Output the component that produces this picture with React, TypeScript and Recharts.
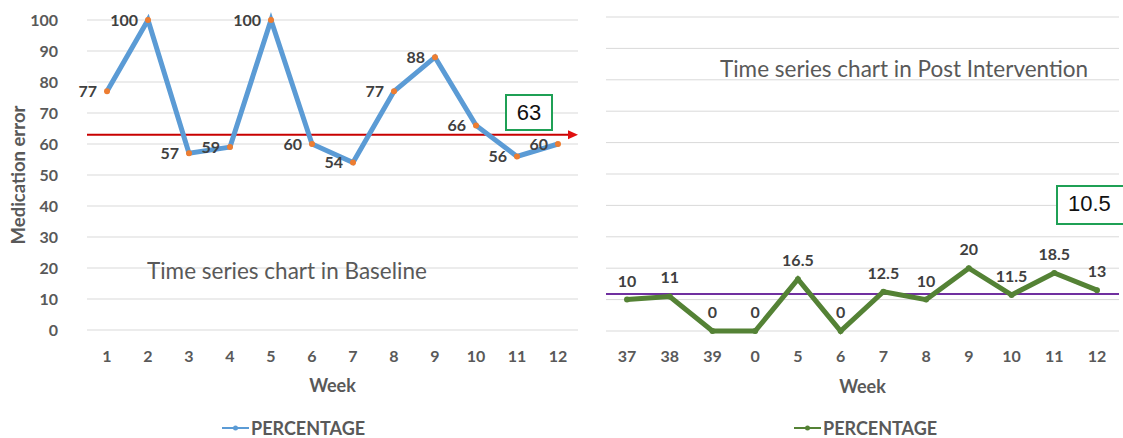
import React from 'react';
import {
  LineChart,
  Line,
  XAxis,
  YAxis,
  CartesianGrid,
  ReferenceLine,
  LabelList,
  Legend,
} from 'recharts';

// ---------- data ----------
const baselineWeeks = ['1', '2', '3', '4', '5', '6', '7', '8', '9', '10', '11', '12'];
const baselineValues = [77, 100, 57, 59, 100, 60, 54, 77, 88, 66, 56, 60];
const baselineMean = 63;

const postWeeks = ['37', '38', '39', '0', '5', '6', '7', '8', '9', '10', '11', '12'];
const postValues = [10, 11, 0, 0, 16.5, 0, 12.5, 10, 20, 11.5, 18.5, 13];
const postLevel = 11.8;

const yTicks = [0, 10, 20, 30, 40, 50, 60, 70, 80, 90, 100];

const baselineTitle = 'Time series chart in Baseline';
const postTitle = 'Time series chart in Post Intervention';
const baselineBoxText = '63';
const postBoxText = '10.5';
const seriesName = 'PERCENTAGE';

const baselineData = baselineWeeks.map((week, i) => ({ week, value: baselineValues[i] }));
const postData = postWeeks.map((week, i) => ({ week, value: postValues[i] }));

// ---------- styles ----------
const FONT = 'Lato, "Open Sans", "Liberation Sans", sans-serif';
const AXIS_GRAY = '#595959';
const LABEL_DARK = '#404040';
const GRID = '#D9D9D9';
const BLUE = '#5B9BD5';
const ORANGE = '#ED7D31';
const GREEN = '#548235';
const RED = '#C80000';
const PURPLE = '#7030A0';
const BOX_GREEN = '#1FA055';

const tickStyle = { fill: AXIS_GRAY, fontSize: 16, fontWeight: 700, fontFamily: FONT };
const dataLabelStyle = { fill: LABEL_DARK, fontSize: 16, fontWeight: 700, fontFamily: FONT };
const weekStyle = { fill: AXIS_GRAY, fontSize: 18, fontWeight: 700, fontFamily: FONT };

const LEGEND_H = 20;
const LEGEND_TOP = 418;

const ArrowLine = (props: any) => {
  const { x1, y1, x2 } = props;
  const y = y1;
  return (
    <g>
      <line x1={x1} y1={y} x2={x2 - 6} y2={y} stroke={RED} strokeWidth={2} />
      <polygon points={`${x2},${y} ${x2 - 10},${y - 4.5} ${x2 - 10},${y + 4.5}`} fill="#E01010" />
    </g>
  );
};

const makeLegend = (color: string) => () => (
  <div style={{ display: 'flex', alignItems: 'center', height: LEGEND_H }}>
    <svg width={27} height={10} style={{ marginRight: 2 }}>
      <line x1={0} y1={5} x2={27} y2={5} stroke={color} strokeWidth={2} />
      <circle cx={13.5} cy={5} r={2.5} fill={color} />
    </svg>
    <span style={{ fontFamily: FONT, fontWeight: 700, fontSize: 18, color: AXIS_GRAY, lineHeight: `${LEGEND_H}px` }}>
      {seriesName}
    </span>
  </div>
);

const titleStyle: React.CSSProperties = {
  position: 'absolute',
  fontFamily: FONT,
  fontSize: 22.5,
  color: AXIS_GRAY,
  whiteSpace: 'nowrap',
  lineHeight: '27px',
};

const boxStyle: React.CSSProperties = {
  position: 'absolute',
  boxSizing: 'border-box',
  border: `2px solid ${BOX_GREEN}`,
  background: '#fff',
  fontFamily: '"Liberation Sans", Lato, sans-serif',
  fontSize: 22,
  color: '#111',
  lineHeight: '34px',
};

export default function App() {
  return (
    <div
      style={{
        position: 'absolute',
        left: 0,
        top: 0,
        width: 1123,
        height: 438,
        overflow: 'hidden',
        background: '#fff',
      }}
    >
      {/* Baseline chart */}
      <div style={{ position: 'absolute', left: 0, top: 0 }}>
        <LineChart width={600} height={438} data={baselineData} margin={{ top: 20, right: 22, bottom: 0, left: 0 }}>
          <CartesianGrid horizontal vertical={false} stroke={GRID} strokeWidth={1} />
          <XAxis
            dataKey="week"
            padding={{ left: 20, right: 20 }}
            axisLine={false}
            tickLine={false}
            tickSize={0}
            tickMargin={21}
            height={108 - LEGEND_H}
            tick={tickStyle}
            label={{ value: 'Week', position: 'insideBottom', offset: 26, style: weekStyle }}
          />
          <YAxis
            domain={[0, 100]}
            ticks={yTicks}
            width={87}
            axisLine={false}
            tickLine={false}
            tickSize={0}
            tickMargin={29}
            tick={tickStyle}
            label={{
              value: 'Medication error',
              angle: -90,
              position: 'insideLeft',
              offset: 18,
              style: { textAnchor: 'middle', fill: AXIS_GRAY, fontSize: 18.5, fontWeight: 700, fontFamily: FONT },
            }}
          />
          <ReferenceLine y={baselineMean} shape={ArrowLine} ifOverflow="extendDomain" />
          <Line
            type="linear"
            dataKey="value"
            name={seriesName}
            stroke={BLUE}
            strokeWidth={5}
            dot={{ r: 3, fill: ORANGE, stroke: 'none' }}
            activeDot={false}
            isAnimationActive={false}
          >
            <LabelList dataKey="value" position="left" offset={10} style={dataLabelStyle} />
          </Line>
          <Legend
            verticalAlign="bottom"
            content={makeLegend(BLUE)}
            wrapperStyle={{ left: 222, top: LEGEND_TOP, bottom: 'auto', width: 200, height: LEGEND_H }}
          />
        </LineChart>
      </div>

      {/* Post intervention chart */}
      <div style={{ position: 'absolute', left: 600, top: 0 }}>
        <LineChart width={523} height={438} data={postData} margin={{ top: 17, right: 4, bottom: 0, left: 6 }}>
          <CartesianGrid horizontal vertical={false} stroke={GRID} strokeWidth={1} />
          <XAxis
            dataKey="week"
            padding={{ left: 21, right: 22 }}
            axisLine={false}
            tickLine={false}
            tickSize={0}
            tickMargin={20}
            height={107 - LEGEND_H}
            tick={tickStyle}
            label={{ value: 'Week', position: 'insideBottom', offset: 25, style: weekStyle }}
          />
          <YAxis domain={[0, 100]} ticks={yTicks} hide />
          <ReferenceLine y={postLevel} stroke={PURPLE} strokeWidth={2} />
          <Line
            type="linear"
            dataKey="value"
            name={seriesName}
            stroke={GREEN}
            strokeWidth={5}
            dot={{ r: 3, fill: GREEN, stroke: 'none' }}
            activeDot={false}
            isAnimationActive={false}
          >
            <LabelList dataKey="value" position="top" offset={13} style={dataLabelStyle} />
          </Line>
          <Legend
            verticalAlign="bottom"
            content={makeLegend(GREEN)}
            wrapperStyle={{ left: 194, top: LEGEND_TOP, bottom: 'auto', width: 200, height: LEGEND_H }}
          />
        </LineChart>
      </div>

      {/* annotations */}
      <div style={{ ...titleStyle, left: 147, top: 257 }}>{baselineTitle}</div>
      <div style={{ ...titleStyle, left: 720, top: 55 }}>{postTitle}</div>
      <div style={{ ...boxStyle, left: 505, top: 94, width: 48, height: 37, textAlign: 'center' }}>{baselineBoxText}</div>
      <div style={{ ...boxStyle, left: 1056, top: 185, width: 80, height: 40, paddingLeft: 10 }}>{postBoxText}</div>
    </div>
  );
}
